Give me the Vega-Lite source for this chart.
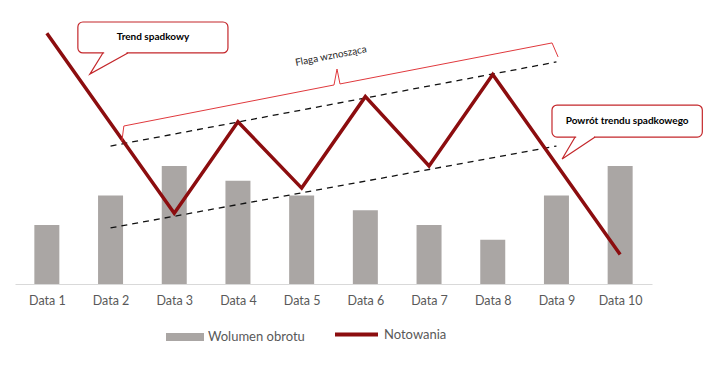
{
  "$schema": "https://vega.github.io/schema/vega-lite/v6.json",
  "width": 637,
  "height": 284,
  "autosize": {"type": "none"},
  "padding": {"left": 15, "top": 0, "right": 61, "bottom": 100},
  "config": {"view": {"stroke": null}, "font": "Lato"},
  "datasets": {
    "main": [
      {"idx": 1, "wolumen": 4, "notowania": 17.0},
      {"idx": 2, "wolumen": 6, "notowania": 10.9},
      {"idx": 3, "wolumen": 8, "notowania": 4.8},
      {"idx": 4, "wolumen": 7, "notowania": 11.0},
      {"idx": 5, "wolumen": 6, "notowania": 6.5},
      {"idx": 6, "wolumen": 5, "notowania": 12.7},
      {"idx": 7, "wolumen": 4, "notowania": 8.0},
      {"idx": 8, "wolumen": 3, "notowania": 14.2},
      {"idx": 9, "wolumen": 6, "notowania": 8.1},
      {"idx": 10, "wolumen": 8, "notowania": 2.0}
    ],
    "trend": [
      {"line": "upper", "idx": 2, "v": 9.35},
      {"line": "upper", "idx": 9, "v": 15.05},
      {"line": "lower", "idx": 2, "v": 3.8},
      {"line": "lower", "idx": 9, "v": 9.35}
    ],
    "bracket": [
      {"ord": 1, "bx": 2.178, "by": 9.69},
      {"ord": 2, "bx": 2.209, "by": 10.71},
      {"ord": 3, "bx": 5.508, "by": 13.49},
      {"ord": 4, "bx": 5.555, "by": 14.57},
      {"ord": 5, "bx": 5.602, "by": 13.56},
      {"ord": 6, "bx": 8.931, "by": 16.34},
      {"ord": 7, "bx": 9.026, "by": 15.39}
    ],
    "boxes": [
      {"x": 1.487, "x2": 3.843, "y": 15.66, "y2": 17.76, "text": "Trend spadkowy", "tx": 2.665, "ty": 16.71},
      {"x": 8.93, "x2": 11.29, "y": 9.96, "y2": 12.13, "text": "Powrót trendu spadkowego", "tx": 10.11, "ty": 11.05}
    ],
    "pointers": [
      {"box": 1, "ord": 1, "px": 1.88, "py": 15.66},
      {"box": 1, "ord": 2, "px": 1.675, "py": 14.23},
      {"box": 1, "ord": 3, "px": 2.272, "py": 15.66},
      {"box": 2, "ord": 1, "px": 9.293, "py": 9.96},
      {"box": 2, "ord": 2, "px": 9.089, "py": 8.47},
      {"box": 2, "ord": 3, "px": 9.607, "py": 9.96}
    ],
    "covers": [
      {"cx": 1.9, "cx2": 2.25, "cy": 15.66},
      {"cx": 9.31, "cx2": 9.59, "cy": 9.96}
    ],
    "flag": [
      {"fx": 5.46, "fy": 15.45, "label": "Flaga wznosząca"}
    ]
  },
  "layer": [
    {
      "data": {"name": "main"},
      "mark": {"type": "bar", "orient": "vertical", "size": 25},
      "encoding": {
        "x": {
          "field": "idx", "type": "quantitative",
          "scale": {"domain": [0.5, 10.5], "nice": false, "zero": false, "padding": 0},
          "axis": {
            "values": [1, 2, 3, 4, 5, 6, 7, 8, 9, 10],
            "labelExpr": "'Data ' + datum.value",
            "title": null, "grid": false, "ticks": false,
            "domainColor": "#d9d9d9", "labelColor": "#595959",
            "labelFontSize": 12.5, "labelPadding": 10, "labelFont": "Lato", "labelFlush": false
          }
        },
        "y": {
          "field": "wolumen", "type": "quantitative",
          "scale": {"domain": [0, 19.25], "nice": false, "zero": false},
          "axis": null
        },
        "color": {
          "datum": "Wolumen obrotu", "type": "nominal",
          "scale": {"domain": ["Wolumen obrotu"], "range": ["#aaa6a4"]},
          "legend": {
            "orient": "none", "legendX": 151, "legendY": 318, "title": null,
            "symbolType": "M-1,-0.21H1V0.21H-1Z", "symbolSize": 1444, "symbolStrokeWidth": 0,
            "labelFontSize": 13, "labelColor": "#595959", "labelFont": "Lato"
          }
        }
      }
    },
    {
      "data": {"name": "trend"},
      "mark": {"type": "line", "color": "#111111", "strokeWidth": 1.3, "strokeDash": [6, 5]},
      "encoding": {
        "x": {"field": "idx", "type": "quantitative", "scale": {"domain": [0.5, 10.5], "nice": false, "zero": false, "padding": 0}},
        "y": {"field": "v", "type": "quantitative", "scale": {"domain": [0, 19.25], "nice": false, "zero": false}},
        "detail": {"field": "line"}
      }
    },
    {
      "data": {"name": "main"},
      "mark": {"type": "line", "strokeWidth": 3.5, "strokeJoin": "miter"},
      "encoding": {
        "x": {"field": "idx", "type": "quantitative", "scale": {"domain": [0.5, 10.5], "nice": false, "zero": false, "padding": 0}},
        "y": {"field": "notowania", "type": "quantitative", "scale": {"domain": [0, 19.25], "nice": false, "zero": false}},
        "color": {
          "datum": "Notowania", "type": "nominal",
          "scale": {"domain": ["Notowania"], "range": ["#8c0d0f"]},
          "legend": {
            "orient": "none", "legendX": 318, "legendY": 311, "title": null,
            "symbolType": "stroke", "symbolSize": 1849, "symbolStrokeWidth": 4,
            "labelFontSize": 13, "labelColor": "#595959", "labelFont": "Lato"
          }
        }
      }
    },
    {
      "data": {"name": "bracket"},
      "mark": {"type": "line", "color": "#e0393d", "strokeWidth": 1},
      "encoding": {
        "x": {"field": "bx", "type": "quantitative", "scale": {"domain": [0.5, 10.5], "nice": false, "zero": false, "padding": 0}},
        "y": {"field": "by", "type": "quantitative", "scale": {"domain": [0, 19.25], "nice": false, "zero": false}},
        "order": {"field": "ord"}
      }
    },
    {
      "data": {"name": "flag"},
      "mark": {"type": "text", "angle": -11, "fontSize": 10, "color": "#262626", "font": "Lato"},
      "encoding": {
        "x": {"field": "fx", "type": "quantitative", "scale": {"domain": [0.5, 10.5], "nice": false, "zero": false, "padding": 0}},
        "y": {"field": "fy", "type": "quantitative", "scale": {"domain": [0, 19.25], "nice": false, "zero": false}},
        "text": {"field": "label"}
      }
    },
    {
      "data": {"name": "boxes"},
      "mark": {"type": "rect", "fill": "white", "stroke": "#c4272b", "strokeWidth": 1.2, "cornerRadius": 5},
      "encoding": {
        "x": {"field": "x", "type": "quantitative", "scale": {"domain": [0.5, 10.5], "nice": false, "zero": false, "padding": 0}},
        "x2": {"field": "x2"},
        "y": {"field": "y", "type": "quantitative", "scale": {"domain": [0, 19.25], "nice": false, "zero": false}},
        "y2": {"field": "y2"}
      }
    },
    {
      "data": {"name": "covers"},
      "mark": {"type": "rule", "color": "white", "strokeWidth": 3},
      "encoding": {
        "x": {"field": "cx", "type": "quantitative", "scale": {"domain": [0.5, 10.5], "nice": false, "zero": false, "padding": 0}},
        "x2": {"field": "cx2"},
        "y": {"field": "cy", "type": "quantitative", "scale": {"domain": [0, 19.25], "nice": false, "zero": false}}
      }
    },
    {
      "data": {"name": "pointers"},
      "mark": {"type": "line", "color": "#c4272b", "strokeWidth": 1.2},
      "encoding": {
        "x": {"field": "px", "type": "quantitative", "scale": {"domain": [0.5, 10.5], "nice": false, "zero": false, "padding": 0}},
        "y": {"field": "py", "type": "quantitative", "scale": {"domain": [0, 19.25], "nice": false, "zero": false}},
        "detail": {"field": "box"},
        "order": {"field": "ord"}
      }
    },
    {
      "data": {"name": "boxes"},
      "mark": {"type": "text", "fontSize": 10, "fontWeight": "bold", "color": "#000000", "font": "Lato"},
      "encoding": {
        "x": {"field": "tx", "type": "quantitative", "scale": {"domain": [0.5, 10.5], "nice": false, "zero": false, "padding": 0}},
        "y": {"field": "ty", "type": "quantitative", "scale": {"domain": [0, 19.25], "nice": false, "zero": false}},
        "text": {"field": "text"}
      }
    }
  ],
  "resolve": {"scale": {"color": "independent"}}
}
